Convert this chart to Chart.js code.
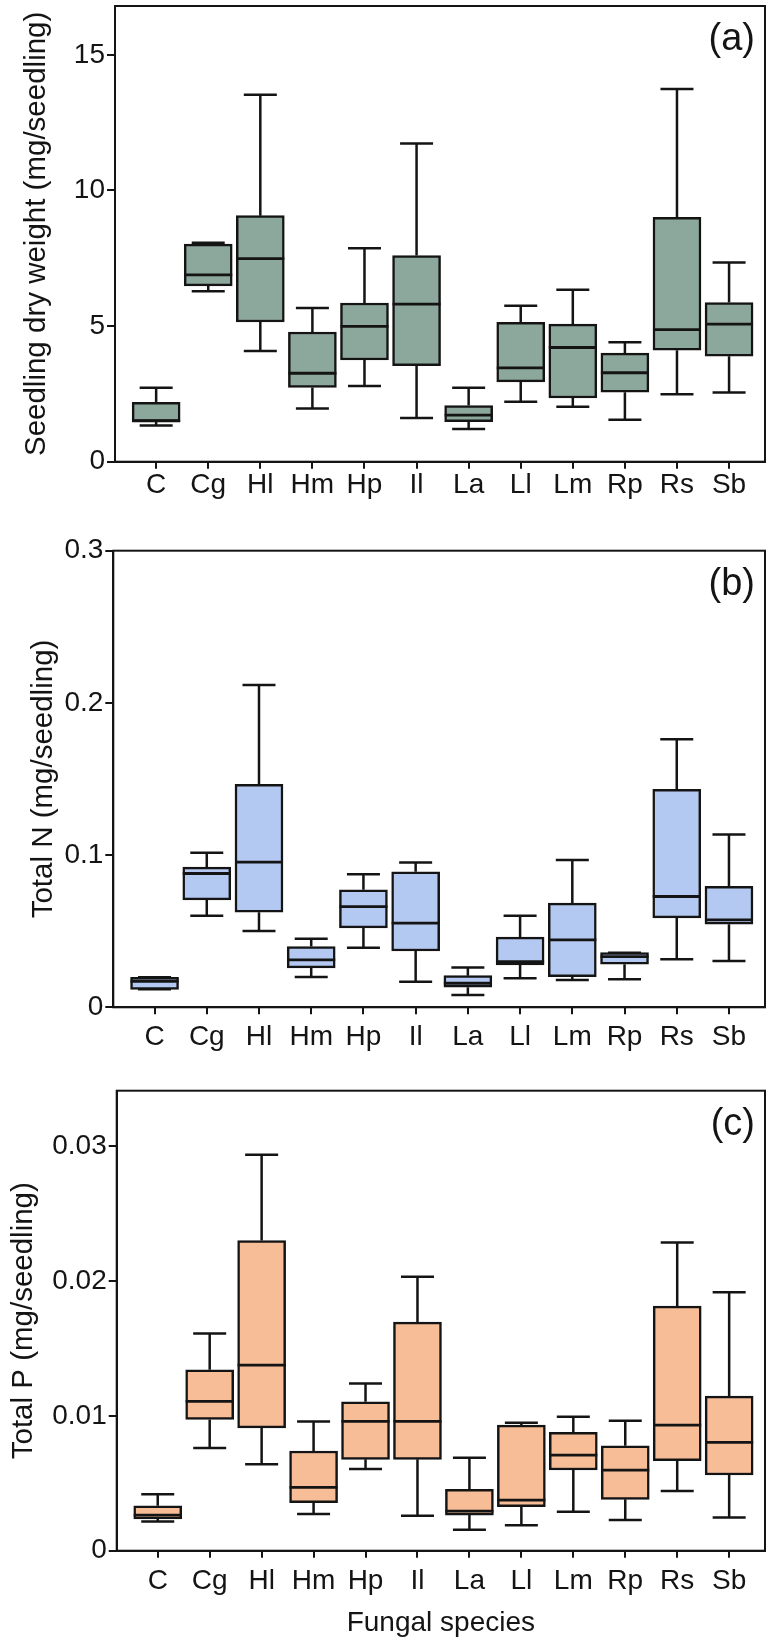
<!DOCTYPE html>
<html><head><meta charset="utf-8">
<script src="https://cdn.jsdelivr.net/npm/chart.js@4.4.1/dist/chart.umd.min.js"></script>
<style>
html,body{margin:0;padding:0;background:#fff;}
#wrap{position:relative;width:766px;height:1640px;overflow:hidden;background:#fff;}
canvas{position:absolute;left:0;}
</style></head><body>
<div id="wrap">
<canvas id="ca" width="766" height="520" style="top:0px"></canvas>
<canvas id="cb" width="766" height="540" style="top:520px"></canvas>
<canvas id="cc" width="766" height="580" style="top:1060px"></canvas>
</div>
<script>
// ---- categories ----
const species = ['C','Cg','Hl','Hm','Hp','Il','La','Ll','Lm','Rp','Rs','Sb'];

// ---- (a) seedling dry weight (mg/seedling) ----
const minA = [1.33, 6.28, 4.08, 1.96, 2.79, 1.61, 1.21, 2.21, 2.03, 1.55, 2.49, 2.55];
const q1A  = [1.48, 6.48, 5.15, 2.74, 3.75, 3.54, 1.48, 2.94, 2.35, 2.56, 4.11, 3.89];
const medA = [1.51, 6.89, 7.49, 3.26, 4.99, 5.81, 1.72, 3.46, 4.21, 3.28, 4.87, 5.07];
const q3A  = [2.19, 8.02, 9.07, 4.78, 5.85, 7.60, 2.07, 5.14, 5.07, 4.00, 9.01, 5.87];
const maxA = [2.73, 8.07, 13.53, 5.67, 7.87, 11.73, 2.73, 5.75, 6.34, 4.40, 13.74, 7.34];

// ---- (b) total N (mg/seedling) ----
const minB = [0.0118, 0.0601, 0.0502, 0.0199, 0.0392, 0.0168, 0.0081, 0.0191, 0.0180, 0.0184, 0.0316, 0.0305];
const q1B  = [0.0118, 0.0706, 0.0625, 0.0259, 0.0522, 0.0370, 0.0132, 0.0278, 0.0201, 0.0283, 0.0588, 0.0546];
const medB = [0.0171, 0.0879, 0.0954, 0.0311, 0.0662, 0.0553, 0.0158, 0.0300, 0.0443, 0.0333, 0.0728, 0.0574];
const q3B  = [0.0197, 0.0921, 0.1465, 0.0399, 0.0772, 0.0890, 0.0208, 0.0461, 0.0684, 0.0359, 0.1432, 0.0794];
const maxB = [0.0197, 0.1015, 0.2118, 0.0451, 0.0875, 0.0951, 0.0261, 0.0601, 0.0967, 0.0359, 0.1761, 0.1136];

// ---- (c) total P (mg/seedling) ----
const minC = [0.00216, 0.00761, 0.00640, 0.00272, 0.00605, 0.00259, 0.00156, 0.00189, 0.00289, 0.00227, 0.00442, 0.00247];
const q1C  = [0.00235, 0.00973, 0.00911, 0.00356, 0.00677, 0.00677, 0.00264, 0.00326, 0.00598, 0.00381, 0.00667, 0.00561];
const medC = [0.00264, 0.01107, 0.01376, 0.00470, 0.00958, 0.00958, 0.00294, 0.00375, 0.00709, 0.00598, 0.00931, 0.00803];
const q3C  = [0.00333, 0.01341, 0.02299, 0.00739, 0.01104, 0.01694, 0.00455, 0.00931, 0.00877, 0.00778, 0.01813, 0.01146];
const maxC = [0.00418, 0.01610, 0.02936, 0.00958, 0.01240, 0.02030, 0.00689, 0.00948, 0.00993, 0.00963, 0.02284, 0.01916];

// ---- tick values / labels ----
const yTicksA = [0, 5, 10, 15];
const yLabelsA = ['0', '5', '10', '15'];
const yTicksB = [0, 0.1, 0.2, 0.3];
const yLabelsB = ['0', '0.1', '0.2', '0.3'];
const yTicksC = [0, 0.01, 0.02, 0.03];
const yLabelsC = ['0', '0.01', '0.02', '0.03'];

const INK = '#141414';
const FONT = "'Liberation Sans', Arial, Helvetica, sans-serif";
const CAP = 16.5;      // half width of whisker caps (px)
const HALF_BOX = 24;   // half width of box (px)
const LW = 2.5;

function boxParts(st, letter) {
  return {
    id: 'boxparts',
    beforeDatasetsDraw(chart) {
      const ctx = chart.ctx, x = chart.scales.x, y = chart.scales.y;
      ctx.save();
      ctx.strokeStyle = INK; ctx.lineWidth = LW; ctx.lineCap = 'butt';
      st.min.forEach((v, i) => {
        const px = x.getPixelForValue(i);
        const yMin = y.getPixelForValue(st.min[i]), yMax = y.getPixelForValue(st.max[i]);
        const yQ1 = y.getPixelForValue(st.q1[i]), yQ3 = y.getPixelForValue(st.q3[i]);
        ctx.beginPath();
        ctx.moveTo(px, yQ3); ctx.lineTo(px, yMax);
        ctx.moveTo(px, yQ1); ctx.lineTo(px, yMin);
        ctx.moveTo(px - CAP, yMax); ctx.lineTo(px + CAP, yMax);
        ctx.moveTo(px - CAP, yMin); ctx.lineTo(px + CAP, yMin);
        ctx.stroke();
      });
      ctx.restore();
    },
    afterDatasetsDraw(chart) {
      const ctx = chart.ctx, x = chart.scales.x, y = chart.scales.y, a = chart.chartArea;
      ctx.save();
      ctx.strokeStyle = INK; ctx.lineWidth = 2.8;
      st.med.forEach((v, i) => {
        const px = x.getPixelForValue(i), py = y.getPixelForValue(v);
        ctx.beginPath(); ctx.moveTo(px - HALF_BOX, py); ctx.lineTo(px + HALF_BOX, py); ctx.stroke();
      });
      ctx.lineWidth = 2;
      ctx.strokeRect(a.left, a.top, a.right - a.left, a.bottom - a.top);
      ctx.fillStyle = INK;
      ctx.font = '38px ' + FONT;
      ctx.textAlign = 'right'; ctx.textBaseline = 'alphabetic';
      ctx.fillText(letter, a.right - 10, a.top + 44);
      ctx.restore();
    }
  };
}

function makeChart(id, st, cfg) {
  return new Chart(document.getElementById(id), {
    type: 'bar',
    data: {
      datasets: [{
        data: species.map((s, i) => ({ x: i, y: [st.q1[i], st.q3[i]] })),
        backgroundColor: cfg.fill, borderColor: INK, borderWidth: LW,
        borderSkipped: false, barThickness: 48
      }]
    },
    options: {
      responsive: false, animation: false, devicePixelRatio: 1,
      layout: { padding: { top: cfg.top, right: 1, left: 0, bottom: 0 } },
      plugins: { legend: { display: false }, tooltip: { enabled: false } },
      scales: {
        x: {
          type: 'linear', min: -0.79, max: 11.69, offset: false,
          afterBuildTicks: s => { s.ticks = species.map((_, i) => ({ value: i })); },
          afterFit: s => { s.height = cfg.xh; s.paddingLeft = 0; s.paddingRight = 0; },
          ticks: { callback: v => species[v], font: { family: FONT, size: 28 }, color: INK,
                   padding: cfg.xpad, maxRotation: 0, minRotation: 0, autoSkip: false },
          grid: { drawOnChartArea: false, drawTicks: true, tickLength: 7, color: INK, lineWidth: 2, offset: false },
          border: { display: true, color: INK, width: 2 },
          title: cfg.xtitle ? { display: true, text: cfg.xtitle, font: { family: FONT, size: 28 }, color: INK,
                   padding: { top: 0, bottom: 0 } } : { display: false }
        },
        y: {
          min: 0, max: cfg.ymax,
          afterBuildTicks: s => { s.ticks = cfg.yticks.map(v => ({ value: v })); },
          afterFit: s => { s.width = cfg.left; s.paddingTop = 0; s.paddingBottom = 0; },
          ticks: { callback: (v, idx) => cfg.ylabels[idx], font: { family: FONT, size: 28 }, color: INK, padding: 2 },
          grid: { drawOnChartArea: false, drawTicks: true, tickLength: 8, color: INK, lineWidth: 2 },
          border: { display: true, color: INK, width: 2 },
          title: { display: true, text: cfg.ytitle, font: { family: FONT, size: 29.5 }, color: INK,
                   padding: { top: cfg.tpad, bottom: 0 } }
        }
      }
    },
    plugins: [boxParts(st, cfg.letter)]
  });
}

makeChart('ca', { min: minA, q1: q1A, med: medA, q3: q3A, max: maxA }, {
  fill: '#8ca79b', top: 6, xh: 58.3, xpad: 0, left: 115, tpad: 19.3, ymax: 16.8,
  yticks: yTicksA, ylabels: yLabelsA, ytitle: 'Seedling dry weight (mg/seedling)', letter: '(a)'
});
makeChart('cb', { min: minB, q1: q1B, med: medB, q3: q3B, max: maxB }, {
  fill: '#b3c9f1', top: 30.7, xh: 52.7, xpad: 6, left: 113.3, tpad: 26.3, ymax: 0.3,
  yticks: yTicksB, ylabels: yLabelsB, ytitle: 'Total N (mg/seedling)', letter: '(b)'
});
makeChart('cc', { min: minC, q1: q1C, med: medC, q3: q3C, max: maxC }, {
  fill: '#f6bd97', top: 30.7, xh: 89.3, xpad: 7, left: 116.7, tpad: 6.3, ymax: 0.0341,
  yticks: yTicksC, ylabels: yLabelsC, ytitle: 'Total P (mg/seedling)', letter: '(c)', xtitle: 'Fungal species'
});
</script>
</body></html>
